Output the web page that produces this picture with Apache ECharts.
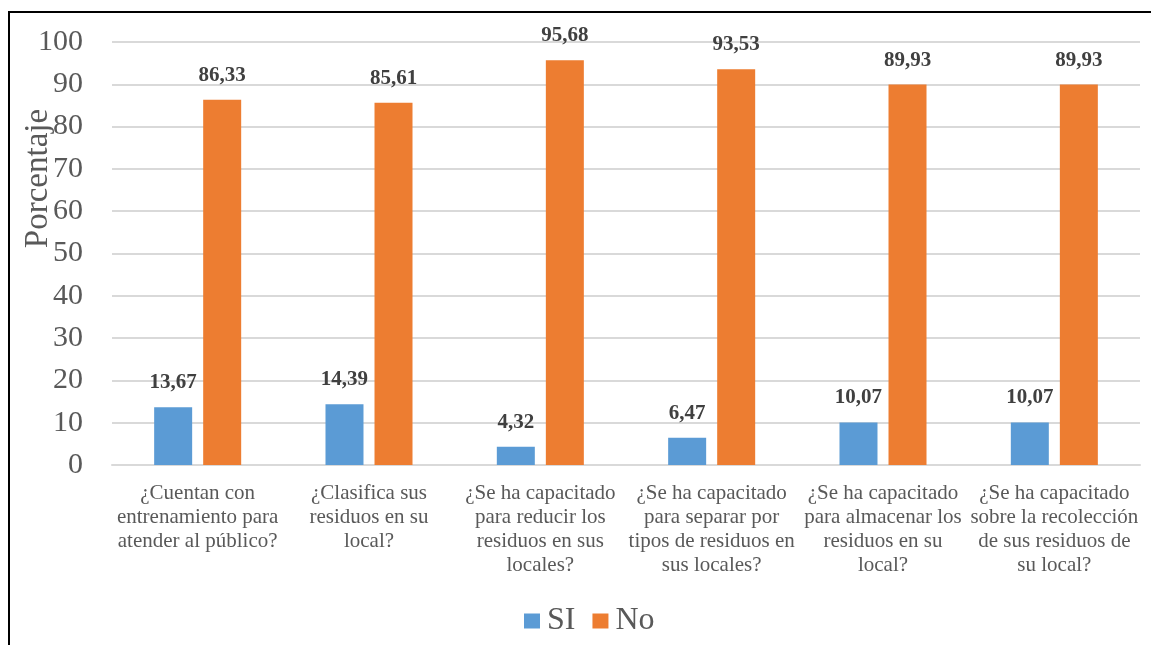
<!DOCTYPE html>
<html>
<head>
<meta charset="utf-8">
<script src="https://cdn.jsdelivr.net/npm/echarts@6/dist/echarts.min.js"></script>
<style>
html,body{margin:0;padding:0;background:#fff;}
#chart{width:1151px;height:645px;position:absolute;left:0;top:0;}
#frame{position:absolute;left:8px;top:11px;width:1160px;height:700px;border-top:2px solid #000;border-left:2px solid #000;pointer-events:none;}
</style>
</head>
<body>
<div id="chart"></div>
<div id="frame"></div>
<script>
const categories = [
  "¿Cuentan con\nentrenamiento para\natender al público?",
  "¿Clasifica sus\nresiduos en su\nlocal?",
  "¿Se ha capacitado\npara reducir los\nresiduos en sus\nlocales?",
  "¿Se ha capacitado\npara separar por\ntipos de residuos en\nsus locales?",
  "¿Se ha capacitado\npara almacenar los\nresiduos en su\nlocal?",
  "¿Se ha capacitado\nsobre la recolección\nde sus residuos de\nsu local?"
];
const siValues = [13.67, 14.39, 4.32, 6.47, 10.07, 10.07];
const noValues = [86.33, 85.61, 95.68, 93.53, 89.93, 89.93];
const seriesNames = ["SI", "No"];
const yTicks = { min: 0, max: 100, interval: 10 };
const yName = "Porcentaje";

const font = "'Liberation Serif', 'Times New Roman', serif";
const fmt = p => p.value.toFixed(2).replace('.', ',');
const labelStyle = {
  show: true, position: 'top', distance: 14, formatter: fmt,
  fontFamily: font, fontSize: 21, fontWeight: 'bold', color: '#404040'
};

const chart = echarts.init(document.getElementById('chart'), null, {renderer: 'canvas'});
chart.setOption({
  animation: false,
  backgroundColor: '#fff',
  textStyle: { fontFamily: font },
  grid: { left: 112, right: 11, top: 42, bottom: 180, containLabel: false },
  legend: {
    data: seriesNames,
    top: 600, left: 519,
    itemWidth: 16, itemHeight: 15, itemGap: 17,
    icon: 'rect',
    textStyle: { fontFamily: font, fontSize: 32, color: '#595959', padding: [0, 0, 0, 2] }
  },
  xAxis: {
    type: 'category',
    data: categories,
    axisLine: { lineStyle: { color: '#d9d9d9', width: 2 } },
    axisTick: { show: false },
    axisLabel: {
      interval: 0, margin: 16, fontFamily: font, fontSize: 21,
      color: '#595959', lineHeight: 24
    }
  },
  yAxis: {
    type: 'value',
    min: yTicks.min, max: yTicks.max, interval: yTicks.interval,
    name: yName, nameLocation: 'middle', nameGap: 57, nameRotate: 90,
    nameMoveOverlap: false,
    nameTextStyle: { fontFamily: font, fontSize: 33, color: '#595959', padding: [0, 0, 0, 150] },
    axisLine: { show: false },
    axisTick: { show: false },
    axisLabel: { margin: 29, fontFamily: font, fontSize: 30, color: '#595959' },
    splitLine: { lineStyle: { color: '#d9d9d9', width: 2 } }
  },
  series: [
    {
      name: seriesNames[0], type: 'bar', data: siValues,
      barWidth: 38, barGap: '29%',
      itemStyle: { color: '#5b9bd5' },
      label: labelStyle
    },
    {
      name: seriesNames[1], type: 'bar', data: noValues,
      barWidth: 38, barGap: '29%',
      itemStyle: { color: '#ed7d31' },
      label: labelStyle
    }
  ]
});
</script>
</body>
</html>
